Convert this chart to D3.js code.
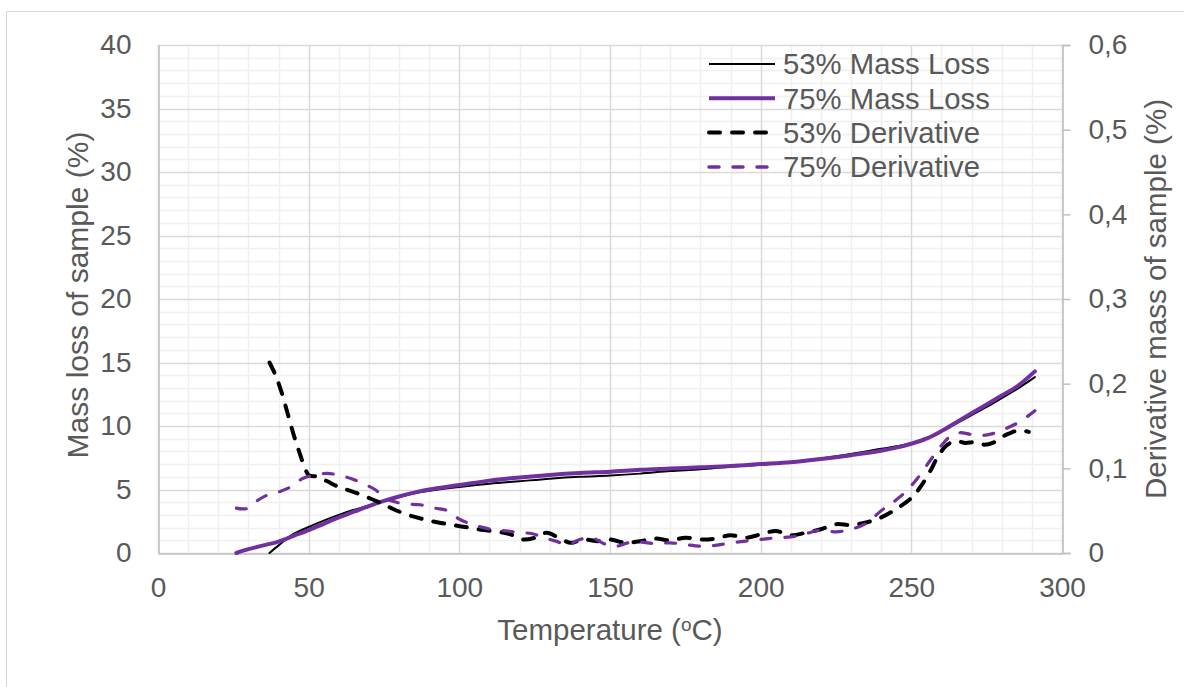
<!DOCTYPE html>
<html>
<head>
<meta charset="utf-8">
<script src="https://cdn.jsdelivr.net/npm/d3@7"></script>
<style>
  html, body { margin: 0; padding: 0; background: #fff; }
  svg { display: block; font-family: "Liberation Sans", Arial, sans-serif; }
</style>
</head>
<body>
<svg id="chart" width="1184" height="687"></svg>
<script>
// ---------- data ----------
const xTicks = [0, 50, 100, 150, 200, 250, 300];
const yLeftTicks = [0, 5, 10, 15, 20, 25, 30, 35, 40];
const yRightTicks = [0, 0.1, 0.2, 0.3, 0.4, 0.5, 0.6];
const yRightLabels = ["0", "0,1", "0,2", "0,3", "0,4", "0,5", "0,6"];
const seriesNames = ["53% Mass Loss", "75% Mass Loss", "53% Derivative", "75% Derivative"];

const tempMass75 = [26, 30, 35, 40, 45, 50, 55, 60, 65, 70, 75, 80, 85, 90, 100, 110, 120, 130, 140, 150, 160, 170, 180, 190, 200, 210, 220, 230, 240, 245, 250, 255, 260, 265, 270, 275, 280, 285, 291];
const massLoss75 = [0, 0.3, 0.6, 0.9, 1.35, 1.8, 2.3, 2.8, 3.25, 3.7, 4.1, 4.45, 4.75, 5.0, 5.35, 5.7, 5.95, 6.15, 6.3, 6.4, 6.55, 6.65, 6.75, 6.85, 7.0, 7.15, 7.4, 7.7, 8.05, 8.3, 8.6, 9.0, 9.6, 10.3, 11.0, 11.7, 12.4, 13.1, 14.3];

const tempMass53 = [37, 40, 45, 50, 55, 60, 65, 70, 75, 80, 85, 90, 100, 110, 120, 130, 140, 150, 160, 170, 180, 190, 200, 210, 220, 230, 240, 245, 250, 255, 260, 265, 270, 275, 280, 285, 291];
const massLoss53 = [0, 0.6, 1.5, 2.05, 2.55, 3.0, 3.4, 3.75, 4.1, 4.4, 4.7, 4.9, 5.2, 5.45, 5.65, 5.85, 6.0, 6.1, 6.25, 6.45, 6.6, 6.8, 6.95, 7.15, 7.45, 7.8, 8.2, 8.4, 8.65, 9.05, 9.6, 10.2, 10.85, 11.5, 12.2, 12.9, 13.85];

const tempDeriv53 = [37, 39, 41, 43, 45, 47, 49, 50, 53, 56, 60, 65, 70, 74, 78, 83, 88, 93, 98, 103, 108, 113, 117, 121, 125, 129, 133, 137, 141, 146, 150, 155, 160, 165, 170, 175, 180, 185, 190, 195, 200, 205, 210, 215, 220, 225, 230, 235, 240, 245, 250, 253, 256, 259, 262, 265, 268, 271, 274, 277, 280, 283, 286, 289];
const deriv53 = [0.225, 0.21, 0.19, 0.165, 0.14, 0.118, 0.098, 0.092, 0.09, 0.085, 0.078, 0.072, 0.065, 0.059, 0.052, 0.045, 0.04, 0.036, 0.033, 0.03, 0.027, 0.025, 0.022, 0.016, 0.018, 0.024, 0.018, 0.012, 0.016, 0.014, 0.016, 0.012, 0.014, 0.017, 0.015, 0.018, 0.016, 0.017, 0.021, 0.018, 0.022, 0.026, 0.021, 0.024, 0.028, 0.034, 0.033, 0.036, 0.042, 0.052, 0.065, 0.078, 0.095, 0.115, 0.128, 0.132, 0.13, 0.131, 0.128, 0.13, 0.137, 0.142, 0.145, 0.143];

const tempDeriv75 = [26, 28, 30, 33, 36, 40, 44, 48, 52, 56, 60, 64, 68, 72, 75, 78, 82, 87, 92, 96, 100, 104, 108, 112, 116, 120, 124, 128, 132, 136, 140, 144, 148, 152, 156, 160, 165, 170, 175, 180, 185, 190, 195, 200, 205, 210, 215, 220, 225, 230, 235, 240, 244, 248, 252, 256, 260, 263, 266, 270, 274, 278, 282, 286, 291];
const deriv75 = [0.053, 0.052, 0.053, 0.062, 0.068, 0.072, 0.078, 0.088, 0.092, 0.094, 0.092, 0.088, 0.082, 0.075, 0.066, 0.061, 0.058, 0.057, 0.053, 0.05, 0.04, 0.034, 0.03, 0.027, 0.026, 0.024, 0.023, 0.018, 0.014, 0.01, 0.016, 0.018, 0.011, 0.008, 0.012, 0.013, 0.011, 0.012, 0.01, 0.008, 0.009, 0.012, 0.014, 0.016, 0.018, 0.019, 0.023, 0.027, 0.025, 0.028, 0.035, 0.05, 0.06, 0.072, 0.088, 0.108, 0.127, 0.138, 0.142, 0.14, 0.139, 0.142, 0.148, 0.155, 0.168];

// ---------- layout ----------
const svg = d3.select("#chart");
const L = 158, R = 1062, T = 45, B = 553;
const textColor = "#595959";
const purple = "#7030A0";
const FONT = "Liberation Sans, Arial, sans-serif";

const x = d3.scaleLinear().domain([0, 300]).range([L, R]);
const yL = d3.scaleLinear().domain([0, 40]).range([B, T]);
const yR = d3.scaleLinear().domain([0, 0.6]).range([B, T]);

// outer border
svg.append("rect").attr("x", 6.5).attr("y", 11.5).attr("width", 1180).attr("height", 680)
  .attr("fill", "#fff").attr("stroke", "#d9d9d9").attr("stroke-width", 1);

// minor gridlines
const g = svg.append("g");
d3.range(0, 41, 1).filter(v => v % 5 !== 0).forEach(v => {
  g.append("line").attr("x1", L).attr("x2", R).attr("y1", Math.round(yL(v)) + 0.5).attr("y2", Math.round(yL(v)) + 0.5)
    .attr("stroke", "#f0f0f0").attr("stroke-width", 1.5);
});
d3.range(0, 301, 10).filter(v => v % 50 !== 0).forEach(v => {
  g.append("line").attr("y1", T).attr("y2", B).attr("x1", Math.round(x(v)) + 0.5).attr("x2", Math.round(x(v)) + 0.5)
    .attr("stroke", "#f0f0f0").attr("stroke-width", 1.5);
});
// major gridlines
yLeftTicks.forEach(v => {
  g.append("line").attr("x1", L).attr("x2", R).attr("y1", Math.round(yL(v)) + 0.5).attr("y2", Math.round(yL(v)) + 0.5)
    .attr("stroke", "#d9d9d9").attr("stroke-width", 1.5);
});
xTicks.forEach(v => {
  g.append("line").attr("y1", T).attr("y2", B).attr("x1", Math.round(x(v)) + 0.5).attr("x2", Math.round(x(v)) + 0.5)
    .attr("stroke", "#d9d9d9").attr("stroke-width", 1.5);
});

// axes
const axisColor = "#bfbfbf";
const xAxis = svg.append("g").attr("transform", `translate(0,${B + 0.5})`)
  .call(d3.axisBottom(x).tickValues(xTicks).tickSize(0).tickPadding(24).tickFormat(d3.format("d")));
xAxis.select(".domain").attr("stroke", axisColor).attr("stroke-width", 1.5);
xAxis.selectAll("text").attr("fill", textColor).attr("font-size", 28).attr("font-family", FONT);

const yAxisL = svg.append("g").attr("transform", `translate(${L + 0.5},0)`)
  .call(d3.axisLeft(yL).tickValues(yLeftTicks).tickSize(0).tickPadding(27).tickFormat(d3.format("d")));
yAxisL.select(".domain").attr("stroke", axisColor).attr("stroke-width", 1.5);
yAxisL.selectAll("text").attr("fill", textColor).attr("font-size", 28).attr("font-family", FONT);

const yAxisR = svg.append("g").attr("transform", `translate(${R + 0.5},0)`)
  .call(d3.axisRight(yR).tickValues(yRightTicks).tickSize(8).tickPadding(18).tickFormat((d, i) => yRightLabels[i]));
yAxisR.select(".domain").attr("stroke", axisColor).attr("stroke-width", 1.5);
yAxisR.selectAll(".tick line").attr("stroke", axisColor).attr("stroke-width", 1.5);
yAxisR.selectAll("text").attr("fill", textColor).attr("font-size", 28).attr("font-family", FONT);

// axis titles
svg.append("text").attr("x", (L + R) / 2).attr("y", 640).attr("text-anchor", "middle")
  .attr("fill", textColor).attr("font-size", 29.5)
  .html('Temperature (<tspan font-size="19" dy="-9">o</tspan><tspan dy="9">C)</tspan>');
svg.append("text").attr("transform", "translate(88,295) rotate(-90)").attr("text-anchor", "middle")
  .attr("fill", textColor).attr("font-size", 30).text("Mass loss of sample (%)");
svg.append("text").attr("transform", "translate(1166,299) rotate(-90)").attr("text-anchor", "middle")
  .attr("fill", textColor).attr("font-size", 29.5).text("Derivative mass of sample (%)");

// ---------- series ----------
const curve = d3.curveCatmullRom.alpha(0.5);
const lineL = d3.line().x(d => x(d[0])).y(d => yL(d[1])).curve(curve);
const lineR = d3.line().x(d => x(d[0])).y(d => yR(d[1])).curve(curve);

const styles = [
  { color: "#000", width: 2, dash: null },
  { color: purple, width: 4, dash: null },
  { color: "#000", width: 4, dash: "11,12" },
  { color: purple, width: 3.2, dash: "10,14" }
];
const seriesData = [
  { pts: d3.zip(tempMass53, massLoss53), gen: lineL },
  { pts: d3.zip(tempMass75, massLoss75), gen: lineL },
  { pts: d3.zip(tempDeriv53, deriv53), gen: lineR },
  { pts: d3.zip(tempDeriv75, deriv75), gen: lineR }
];
seriesData.forEach((s, i) => {
  const st = styles[i];
  const p = svg.append("path").attr("d", s.gen(s.pts)).attr("fill", "none")
    .attr("stroke", st.color).attr("stroke-width", st.width)
    .attr("stroke-linecap", "round").attr("stroke-linejoin", "round");
  if (st.dash) p.attr("stroke-dasharray", st.dash);
});

// ---------- legend ----------
const legend = svg.append("g");
seriesNames.forEach((name, i) => {
  const yy = 64 + i * 34.3;
  const st = styles[i];
  const ln = legend.append("line").attr("x1", 709).attr("x2", 775).attr("y1", yy).attr("y2", yy)
    .attr("stroke", st.color).attr("stroke-width", st.width === 2 ? 2 : (i === 3 ? 3.5 : 4))
    .attr("stroke-linecap", st.dash ? "round" : "butt");
  if (st.dash) ln.attr("stroke-dasharray", st.dash);
  legend.append("text").attr("x", 783).attr("y", yy).attr("dy", "0.35em")
    .attr("fill", textColor).attr("font-size", 29.3).text(name);
});
</script>
</body>
</html>
